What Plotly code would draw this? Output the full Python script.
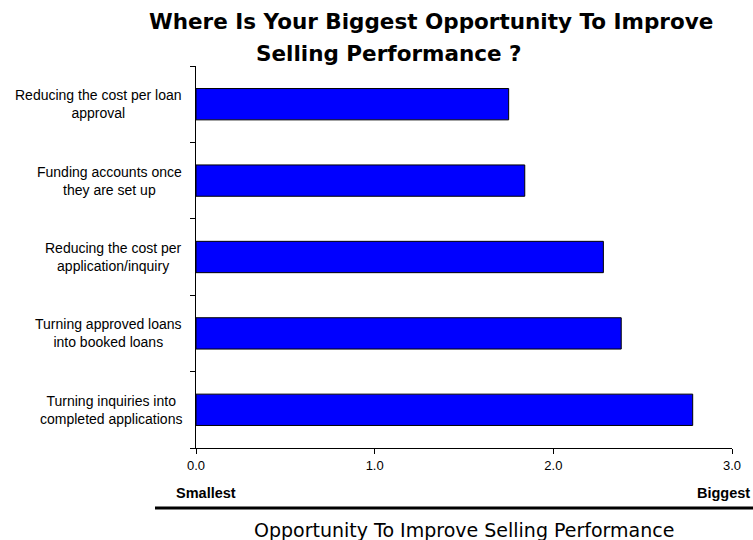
import plotly.graph_objects as go

categories = [
    "Reducing the cost per loan<br>approval",
    "Funding accounts once<br>they are set up",
    "Reducing the cost per<br>application/inquiry",
    "Turning approved loans<br>into booked loans",
    "Turning inquiries into<br>completed applications",
]
values = [1.75, 1.84, 2.28, 2.38, 2.78]
x_ticks = [0, 1, 2, 3]
x_tick_labels = ["0.0", "1.0", "2.0", "3.0"]
title_lines = ["Where Is Your Biggest Opportunity To Improve", "Selling Performance ?"]
axis_title = "Opportunity To Improve Selling Performance"
end_labels = ["Smallest", "Biggest"]

W, H = 753, 540
L, R, T, B = 196, 21, 66, 92
plot_w = W - L - R
plot_h = H - T - B


def px_x(px):
    return (px - L) / plot_w


def px_y(py):
    return (H - B - py) / plot_h


pos = list(range(len(categories)))

fig = go.Figure()
fig.add_trace(go.Bar(
    x=values, y=pos, orientation="h",
    width=0.41,
    marker=dict(color="#0000FF", line=dict(color="black", width=1)),
    hoverinfo="x",
))

for i, c in enumerate(categories):
    fig.add_annotation(
        x=0, xref="paper", y=i, yref="y", text=c, showarrow=False,
        xanchor="right", xshift=-12, align="center",
        font=dict(family="Liberation Sans, Arial", size=14, color="black"),
    )

fig.update_layout(
    width=W, height=H,
    margin=dict(l=L, r=R, t=T, b=B),
    paper_bgcolor="white", plot_bgcolor="white",
    showlegend=False,
    font=dict(family="Liberation Sans, Arial", size=13, color="black"),
    xaxis=dict(
        range=[0, 3], tickvals=x_ticks, ticktext=x_tick_labels,
        showgrid=False, zeroline=False, showline=True, linecolor="black", linewidth=1,
        ticks="outside", ticklen=5, tickcolor="black",
        tickfont=dict(family="Liberation Sans, Arial", size=13),
    ),
    yaxis=dict(
        range=[len(categories) - 0.5, -0.5],
        tickvals=[i - 0.5 for i in range(len(categories) + 1)],
        showticklabels=False,
        showgrid=False, zeroline=False, showline=True, linecolor="black", linewidth=1,
        ticks="outside", ticklen=5, tickcolor="black",
    ),
)

# Title lines
fig.add_annotation(text="<b>%s</b>" % title_lines[0], x=px_x(431), y=px_y(22),
                   xref="paper", yref="paper", xanchor="center", yanchor="middle",
                   showarrow=False, font=dict(family="DejaVu Sans", size=21.5, color="black"))
fig.add_annotation(text="<b>%s</b>" % title_lines[1], x=px_x(389), y=px_y(53),
                   xref="paper", yref="paper", xanchor="center", yanchor="middle",
                   showarrow=False, font=dict(family="DejaVu Sans", size=21.5, color="black"))

# end labels
fig.add_annotation(text="<b>%s</b>" % end_labels[0], x=px_x(174), y=px_y(493),
                   xref="paper", yref="paper", xanchor="left", yanchor="middle", showarrow=False,
                   font=dict(family="Liberation Sans, Arial", size=14.5))
fig.add_annotation(text="<b>%s</b>" % end_labels[1], x=px_x(752), y=px_y(493),
                   xref="paper", yref="paper", xanchor="right", yanchor="middle", showarrow=False,
                   font=dict(family="Liberation Sans, Arial", size=14.5))
fig.add_annotation(text=axis_title, x=px_x(464), y=px_y(530),
                   xref="paper", yref="paper", xanchor="center", yanchor="middle", showarrow=False,
                   font=dict(family="DejaVu Sans", size=19))

fig.add_shape(type="line", xref="paper", yref="paper",
              x0=px_x(155), x1=px_x(753), y0=px_y(508), y1=px_y(508),
              line=dict(color="black", width=3))

fig.write_html("out.html")
